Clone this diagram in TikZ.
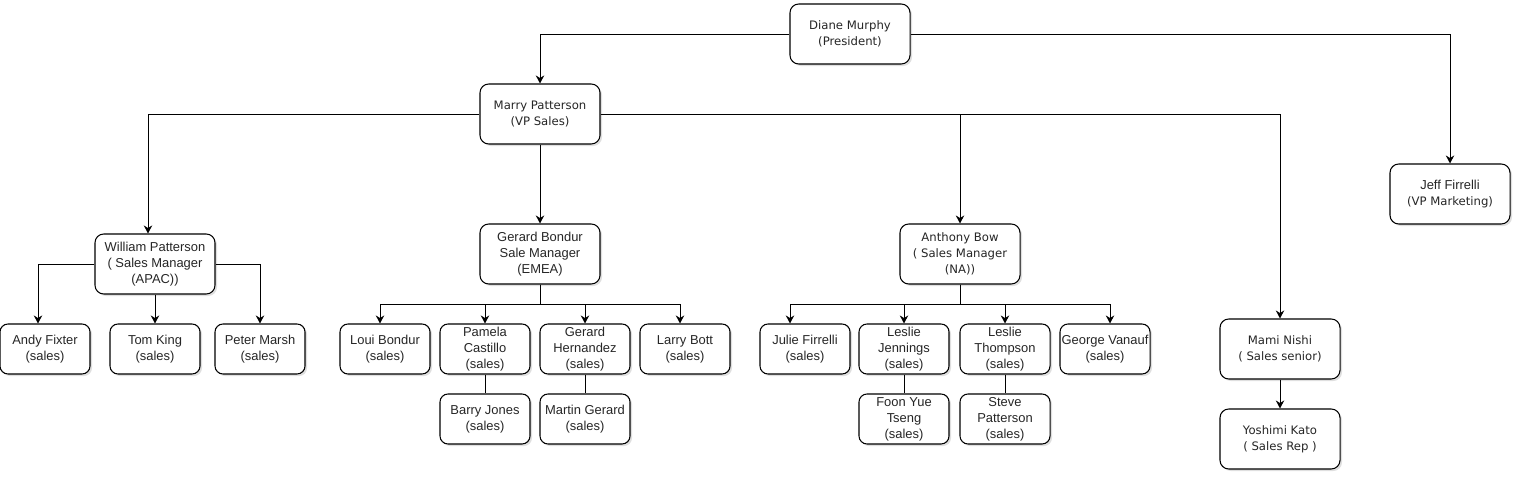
\documentclass[tikz,border=0pt]{standalone}
\usepackage{fontspec}
\setmainfont{Liberation Sans}
\newfontfamily\wide{DejaVu Sans}
\usetikzlibrary{arrows.meta,positioning,shadows}

\begin{document}
\begin{tikzpicture}[
		x=0.025cm, y=-0.025cm,
		box/.style={draw, line width=0.75pt, fill=white, rounded corners=0.22cm, align=center, inner sep=0pt,
			text=black!85, font=\fontsize{9.2}{11.4}\selectfont,
			drop shadow={shadow xshift=0.05cm, shadow yshift=-0.05cm, opacity=0.25}},
		head/.style={box, minimum width=3cm, minimum height=1.5cm},
		staff/.style={box, minimum width=2.25cm, minimum height=1.25cm, rounded corners=0.2cm},
		verd/.style={font=\wide\fontsize{8.3}{11.4}\selectfont},
		link/.style={line width=0.7pt, -{Stealth[length=2mm, width=2.1mm]}},
		tie/.style={line width=0.7pt},
	]
		\useasboundingbox (0,0) rectangle (1517,478);
		
		\node[head, verd] (diane) at (850,34) {Diane Murphy\\(President)};
		\node[head, verd] (marry) at (540,114) {Marry Patterson\\(VP Sales)};
		\node[head] (jeff) at (1450,194) {Jeff Firrelli\\{\wide\fontsize{8.3}{11.4}\selectfont(VP Marketing)}};
		
		\node[head] (william) at (155,264) {William Patterson\\( Sales Manager\\(APAC))};
		\node[head] (gerard) at (540,254) {Gerard Bondur\\Sale Manager\\(EMEA)};
		\node[head, verd] (anthony) at (960,254) {Anthony Bow\\( Sales Manager\\(NA))};
		\node[head, verd] (mami) at (1280,349) {Mami Nishi\\( Sales senior)};
		\node[head, verd] (yoshimi) at (1280,439) {Yoshimi Kato\\( Sales Rep )};
		
		\node[staff] (andy) at (45,349) {Andy Fixter\\(sales)};
		\node[staff] (tom) at (155,349) {Tom King\\(sales)};
		\node[staff] (peter) at (260,349) {Peter Marsh\\(sales)};
		
		\node[staff] (loui) at (385,349) {Loui Bondur\\(sales)};
		\node[staff] (pamela) at (485,349) {Pamela\\Castillo\\(sales)};
		\node[staff] (hernandez) at (585,349) {Gerard\\Hernandez\\(sales)};
		\node[staff] (larry) at (685,349) {Larry Bott\\(sales)};
		\node[staff] (barry) at (485,419) {Barry Jones\\(sales)};
		\node[staff] (martin) at (585,419) {Martin Gerard\\(sales)};
		
		\node[staff] (julie) at (805,349) {Julie Firrelli\\(sales)};
		\node[staff] (jennings) at (904,349) {Leslie\\Jennings\\(sales)};
		\node[staff] (thompson) at (1005,349) {Leslie\\Thompson\\(sales)};
		\node[staff] (george) at (1105,349) {George Vanauf\\(sales)};
		\node[staff] (foon) at (904,419) {Foon Yue\\Tseng\\(sales)};
		\node[staff] (steve) at (1005,419) {Steve\\Patterson\\(sales)};
		
		\draw[link] (diane.west) -| (marry.north);
		\draw[link] (diane.east) -| (jeff.north);
		
		\draw[link] (marry.west) -| ([xshift=-0.175cm]william.north);
		\draw[link] (marry.south) -- (gerard.north);
		\draw[link] (marry.east) -| (anthony.north);
		\draw[link] (marry.east) -| (mami.north);
		
		\draw[link] (william.west) -| ([xshift=-0.175cm]andy.north);
		\draw[link] (william.south) -- (tom.north);
		\draw[link] (william.east) -| (peter.north);
		
		\draw[link] (gerard.south) -- ++(0,20) -| ([xshift=-0.125cm]loui.north);
		\draw[link] (gerard.south) -- ++(0,20) -| (pamela.north);
		\draw[link] (gerard.south) -- ++(0,20) -| (hernandez.north);
		\draw[link] (gerard.south) -- ++(0,20) -| ([xshift=-0.125cm]larry.north);
		\draw[tie] (pamela) -- (barry);
		\draw[tie] (hernandez) -- (martin);
		
		\draw[link] (anthony.south) -- ++(0,20) -| ([xshift=-0.375cm]julie.north);
		\draw[link] (anthony.south) -- ++(0,20) -| (jennings.north);
		\draw[link] (anthony.south) -- ++(0,20) -| (thompson.north);
		\draw[link] (anthony.south) -- ++(0,20) -| ([xshift=0.125cm]george.north);
		\draw[tie] (jennings) -- (foon);
		\draw[tie] (thompson) -- (steve);
		
		\draw[link] (mami) -- (yoshimi);
	\end{tikzpicture}
\end{document}
